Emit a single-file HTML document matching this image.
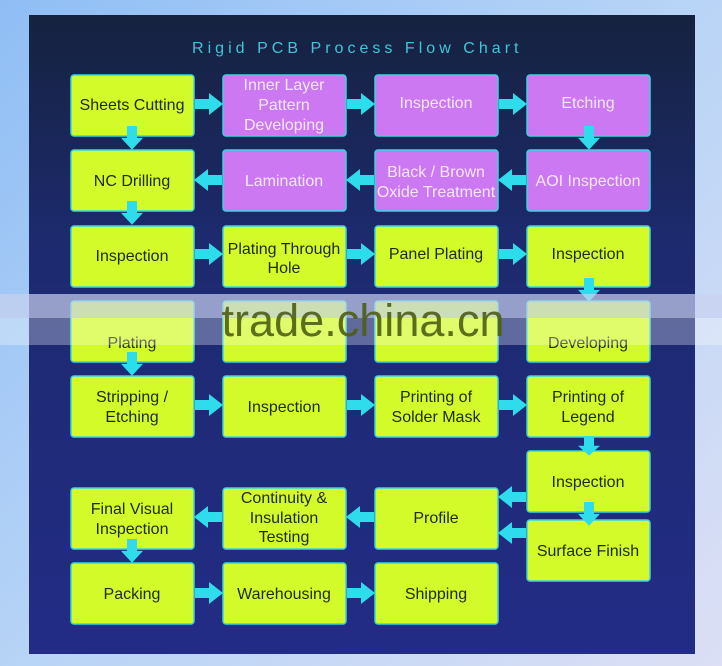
<!DOCTYPE html>
<html><head><meta charset="utf-8"><style>
html,body{margin:0;padding:0;width:722px;height:666px;overflow:hidden;background:linear-gradient(135deg,#8fbef5 0%,#b8d4f6 50%,#dcdff5 100%);}
svg{display:block}
text{font-family:"Liberation Sans",Arial,sans-serif;}
</style></head><body>
<svg width="722" height="666" viewBox="0 0 722 666" xmlns="http://www.w3.org/2000/svg">
<defs>
<linearGradient id="pg" x1="0" y1="0" x2="0" y2="1">
<stop offset="0" stop-color="#15223f"/>
<stop offset="0.35" stop-color="#1d2a6e"/>
<stop offset="1" stop-color="#222c86"/>
</linearGradient>
<g id="ar"><polygon points="0,-5 14,-5 14,-11 28,0 14,11 14,5 0,5" fill="#2fdcec"/></g>
</defs>
<rect x="29" y="15" width="666" height="639" fill="url(#pg)"/>
<text x="356" y="53" text-anchor="middle" font-size="16" fill="#3fc6d6" letter-spacing="1.5" textLength="328">Rigid PCB Process Flow Chart</text>

<g stroke="#36d6e0" stroke-width="1.5">
<g fill="#d3fb2a">
<rect x="71" y="75" width="123" height="61" rx="3"/>
<rect x="71" y="150" width="123" height="61" rx="3"/>
<rect x="71" y="226" width="123" height="61" rx="3"/>
<rect x="223" y="226" width="123" height="61" rx="3"/>
<rect x="375" y="226" width="123" height="61" rx="3"/>
<rect x="527" y="226" width="123" height="61" rx="3"/>
<rect x="71" y="301" width="123" height="61" rx="3"/>
<rect x="223" y="301" width="123" height="61" rx="3"/>
<rect x="375" y="301" width="123" height="61" rx="3"/>
<rect x="527" y="301" width="123" height="61" rx="3"/>
<rect x="71" y="376" width="123" height="61" rx="3"/>
<rect x="223" y="376" width="123" height="61" rx="3"/>
<rect x="375" y="376" width="123" height="61" rx="3"/>
<rect x="527" y="376" width="123" height="61" rx="3"/>
<rect x="527" y="451" width="123" height="61" rx="3"/>
<rect x="527" y="520" width="123" height="61" rx="3"/>
<rect x="71" y="488" width="123" height="61" rx="3"/>
<rect x="223" y="488" width="123" height="61" rx="3"/>
<rect x="375" y="488" width="123" height="61" rx="3"/>
<rect x="71" y="563" width="123" height="61" rx="3"/>
<rect x="223" y="563" width="123" height="61" rx="3"/>
<rect x="375" y="563" width="123" height="61" rx="3"/>
</g>
<g fill="#cc78f2">
<rect x="223" y="75" width="123" height="61" rx="3"/>
<rect x="375" y="75" width="123" height="61" rx="3"/>
<rect x="527" y="75" width="123" height="61" rx="3"/>
<rect x="223" y="150" width="123" height="61" rx="3"/>
<rect x="375" y="150" width="123" height="61" rx="3"/>
<rect x="527" y="150" width="123" height="61" rx="3"/>
</g>
</g>

<use href="#ar" x="195" y="104"/>
<use href="#ar" x="347" y="104"/>
<use href="#ar" x="499" y="104"/>
<use href="#ar" x="195" y="254"/>
<use href="#ar" x="347" y="254"/>
<use href="#ar" x="499" y="254"/>
<use href="#ar" x="195" y="405"/>
<use href="#ar" x="347" y="405"/>
<use href="#ar" x="499" y="405"/>
<use href="#ar" x="195" y="593"/>
<use href="#ar" x="347" y="593"/>
<use href="#ar" transform="translate(222,180) scale(-1,1)"/>
<use href="#ar" transform="translate(374,180) scale(-1,1)"/>
<use href="#ar" transform="translate(526,180) scale(-1,1)"/>
<use href="#ar" transform="translate(526,497) scale(-1,1)"/>
<use href="#ar" transform="translate(526,533) scale(-1,1)"/>
<use href="#ar" transform="translate(222,517) scale(-1,1)"/>
<use href="#ar" transform="translate(374,517) scale(-1,1)"/>
<use href="#ar" transform="translate(132,126) rotate(90) scale(0.85,1)"/>
<use href="#ar" transform="translate(132,201) rotate(90) scale(0.85,1)"/>
<use href="#ar" transform="translate(132,352) rotate(90) scale(0.85,1)"/>
<use href="#ar" transform="translate(132,539) rotate(90) scale(0.85,1)"/>
<use href="#ar" transform="translate(589,126) rotate(90) scale(0.85,1)"/>
<use href="#ar" transform="translate(589,278) rotate(90) scale(0.85,1)"/>
<use href="#ar" transform="translate(589,436) rotate(90) scale(0.7,1)"/>
<use href="#ar" transform="translate(589,502) rotate(90) scale(0.85,1)"/>

<g font-size="16" text-anchor="middle" fill="#1e2a10">
<text x="132" y="110">Sheets Cutting</text>
<text x="132" y="186">NC Drilling</text>
<text x="132" y="261">Inspection</text>
<text x="284" y="254">Plating Through</text>
<text x="284" y="273">Hole</text>
<text x="436" y="259">Panel Plating</text>
<text x="588" y="259">Inspection</text>
<text x="132" y="348">Plating</text>
<text x="588" y="348">Developing</text>
<text x="132" y="402">Stripping /</text>
<text x="132" y="422">Etching</text>
<text x="284" y="412">Inspection</text>
<text x="436" y="402">Printing of</text>
<text x="436" y="422">Solder Mask</text>
<text x="588" y="402">Printing of</text>
<text x="588" y="422">Legend</text>
<text x="588" y="487">Inspection</text>
<text x="588" y="556">Surface Finish</text>
<text x="132" y="514">Final Visual</text>
<text x="132" y="534">Inspection</text>
<text x="284" y="503">Continuity &amp;</text>
<text x="284" y="523">Insulation</text>
<text x="284" y="542">Testing</text>
<text x="436" y="523">Profile</text>
<text x="132" y="599">Packing</text>
<text x="284" y="599">Warehousing</text>
<text x="436" y="599">Shipping</text>
</g>
<g font-size="16" text-anchor="middle" fill="#f4e8ff">
<text x="284" y="90">Inner Layer</text>
<text x="284" y="110">Pattern</text>
<text x="284" y="130">Developing</text>
<text x="436" y="108">Inspection</text>
<text x="588" y="108">Etching</text>
<text x="284" y="186">Lamination</text>
<text x="436" y="177">Black / Brown</text>
<text x="436" y="197">Oxide Treatment</text>
<text x="588" y="186">AOI Inspection</text>
</g>

<rect x="0" y="294" width="722" height="24" fill="#c8d2f0" opacity="0.7"/>
<rect x="0" y="318" width="722" height="27" fill="#ffffff" opacity="0.3"/>
<text x="363" y="336" text-anchor="middle" font-size="45" fill="#4e5e14" opacity="0.9" textLength="283">trade.china.cn</text>
</svg>
</body></html>
